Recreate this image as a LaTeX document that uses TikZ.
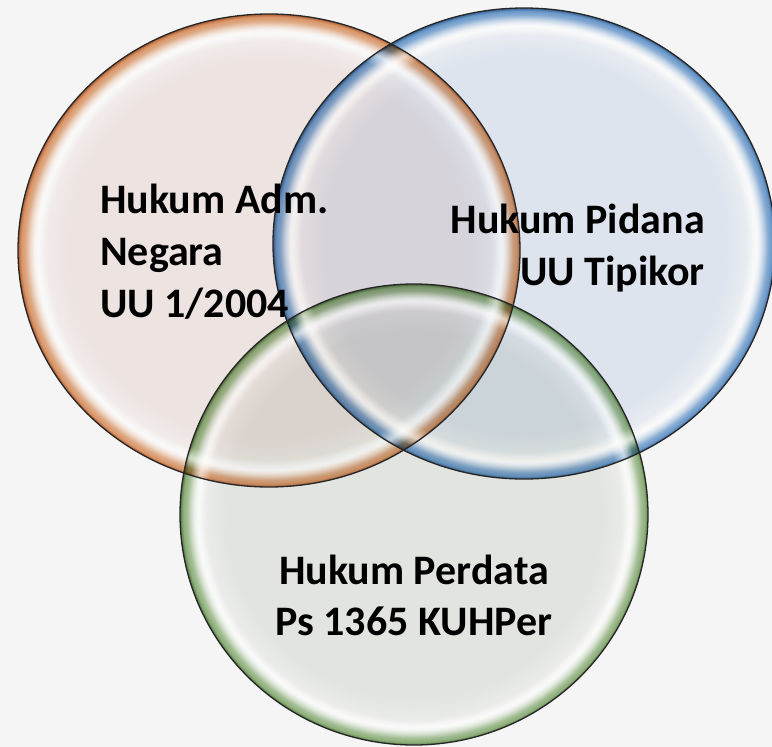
\documentclass[tikz,border=0pt]{standalone}
\usepackage{fontspec}
\setmainfont{Carlito}
\usetikzlibrary{fadings}

% multiply factors for the glass discs
\definecolor{pageBg}{RGB}{245,245,245}
\definecolor{oFill}{RGB}{247,237,235}
\definecolor{oMid}{RGB}{226,156,108}
\definecolor{oDark}{RGB}{180,98,55}
\definecolor{bFill}{RGB}{231,238,248}
\definecolor{bMid}{RGB}{110,158,210}
\definecolor{bDark}{RGB}{60,104,156}
\definecolor{gFill}{RGB}{235,238,233}
\definecolor{gMid}{RGB}{146,182,126}
\definecolor{gDark}{RGB}{88,124,70}

% body of a disc: flat fill, light rim, coloured bevel at the edge (25bp = edge)
\pgfdeclareradialshading{orangeglass}{\pgfpointorigin}{%
  color(0bp)=(oFill); color(20bp)=(oFill); color(22.4bp)=(oFill!50!white);
  color(23.1bp)=(white); color(24.1bp)=(oMid!70!white); color(24.7bp)=(oMid);
  color(25bp)=(oDark); color(50bp)=(oDark)}
\pgfdeclareradialshading{blueglass}{\pgfpointorigin}{%
  color(0bp)=(bFill); color(20bp)=(bFill); color(22.4bp)=(bFill!50!white);
  color(23.1bp)=(white); color(24.1bp)=(bMid!70!white); color(24.7bp)=(bMid);
  color(25bp)=(bDark); color(50bp)=(bDark)}
\pgfdeclareradialshading{greenglass}{\pgfpointorigin}{%
  color(0bp)=(gFill); color(20bp)=(gFill); color(22.4bp)=(gFill!50!white);
  color(23.1bp)=(white); color(24.1bp)=(gMid!70!white); color(24.7bp)=(gMid);
  color(25bp)=(gDark); color(50bp)=(gDark)}

% soft white glint ring just inside the rim
\pgfdeclareradialshading{glintring}{\pgfpointorigin}{%
  color(0bp)=(black); color(22.0bp)=(black); color(23.2bp)=(white!60!black);
  color(24.2bp)=(black); color(50bp)=(black)}
\pgfdeclarefading{glint}{\pgfuseshading{glintring}}

\tikzset{
  disc outline/.style={draw=black!85, line width=1.3pt},
  glint/.style={fill=white, path fading=glint},
  label/.style={font=\fontsize{42}{52}\selectfont\bfseries, text=black, inner sep=0pt},
}

\begin{document}
\begin{tikzpicture}[x=1pt, y=-1pt]
  \fill[pageBg] (0,0) rectangle (772,747);
  \useasboundingbox (0,0) rectangle (772,747);

  \coordinate (adm) at (269,250.5);
  \coordinate (pid) at (524,243.5);
  \coordinate (per) at (414,514.5);

  % coloured bodies, multiplied so overlaps darken
  \begin{scope}[blend mode=multiply]
    \shade[shading=orangeglass] (adm) ellipse [x radius=251, y radius=236.5];
    \shade[shading=blueglass]   (pid) ellipse [x radius=251, y radius=235.5];
    \shade[shading=greenglass]  (per) ellipse [x radius=234, y radius=230.5];
  \end{scope}

  % glints
  \fill[glint] (adm) ellipse [x radius=251, y radius=236.5];
  \fill[glint] (pid) ellipse [x radius=251, y radius=235.5];
  \fill[glint] (per) ellipse [x radius=234, y radius=230.5];

  % rims
  \draw[disc outline] (adm) ellipse [x radius=251, y radius=236.5];
  \draw[disc outline] (pid) ellipse [x radius=251, y radius=235.5];
  \draw[disc outline] (per) ellipse [x radius=234, y radius=230.5];

  % labels
  \node[label, anchor=base west] (adm1) at (100,213) {Hukum Adm.};
  \node[label, anchor=base west] (adm2) at (100,265) {Negara};
  \node[label, anchor=base west] (adm3) at (100,317) {UU 1/2004};

  \node[label, anchor=base east] (pid1) at (705,233) {Hukum Pidana};
  \node[label, anchor=base east] (pid2) at (705,285) {UU Tipikor};

  \node[label, anchor=base] (per1) at (414,584) {Hukum Perdata};
  \node[label, anchor=base] (per2) at (414,635) {Ps 1365 KUHPer};
\end{tikzpicture}
\end{document}
